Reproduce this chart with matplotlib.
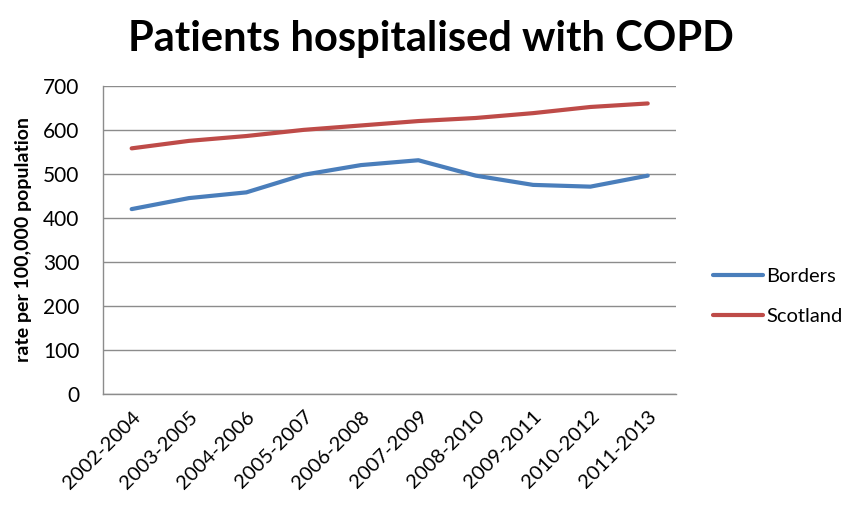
import matplotlib
matplotlib.use("Agg")
import matplotlib.pyplot as plt

categories = ["2002-2004", "2003-2005", "2004-2006", "2005-2007", "2006-2008",
              "2007-2009", "2008-2010", "2009-2011", "2010-2012", "2011-2013"]
borders = [420, 445, 458, 498, 520, 531, 496, 475, 471, 496]
scotland = [558, 575, 586, 600, 610, 620, 627, 638, 652, 660]
yticks = [0, 100, 200, 300, 400, 500, 600, 700]

plt.rcParams['font.family'] = ['Lato', 'DejaVu Sans']

fig = plt.figure(figsize=(8.61, 5.11), dpi=100)
ax = fig.add_axes([0.1196, 0.229, 0.666, 0.603])

x = list(range(len(categories)))
ax.plot(x, borders, color="#4a7ebb", lw=3, label="Borders", solid_capstyle="round")
ax.plot(x, scotland, color="#be4b48", lw=3, label="Scotland", solid_capstyle="round")

ax.set_xlim(-0.5, len(categories) - 0.5)
ax.set_ylim(0, 700)
ax.set_yticks(yticks)
ax.set_yticklabels([str(v) for v in yticks], fontsize=15)
ax.set_xticks(x)
ax.set_xticklabels(categories, rotation=45, ha="right", rotation_mode="anchor", fontsize=14.5)
ax.tick_params(axis="y", length=0, pad=17)
ax.tick_params(axis="x", length=0, pad=10)
ax.grid(axis="y", color="#8c8c8c", lw=1)
ax.set_axisbelow(True)
for s in ["top", "right"]:
    ax.spines[s].set_visible(False)
for s in ["left", "bottom"]:
    ax.spines[s].set_color("#8c8c8c")
    ax.spines[s].set_linewidth(1)

ax.set_ylabel("rate per 100,000 population", fontsize=14, fontweight="bold", labelpad=8)
fig.suptitle("Patients hospitalised with COPD", fontsize=30, fontweight="bold", x=0.5, y=0.96)

leg = fig.legend(loc="center left", bbox_to_anchor=(0.828, 0.42), frameon=False,
                 borderpad=0, borderaxespad=0,
                 fontsize=14.5, handlelength=2.5, handletextpad=0.15, labelspacing=1.1)

fig.savefig("out.png", dpi=100)
